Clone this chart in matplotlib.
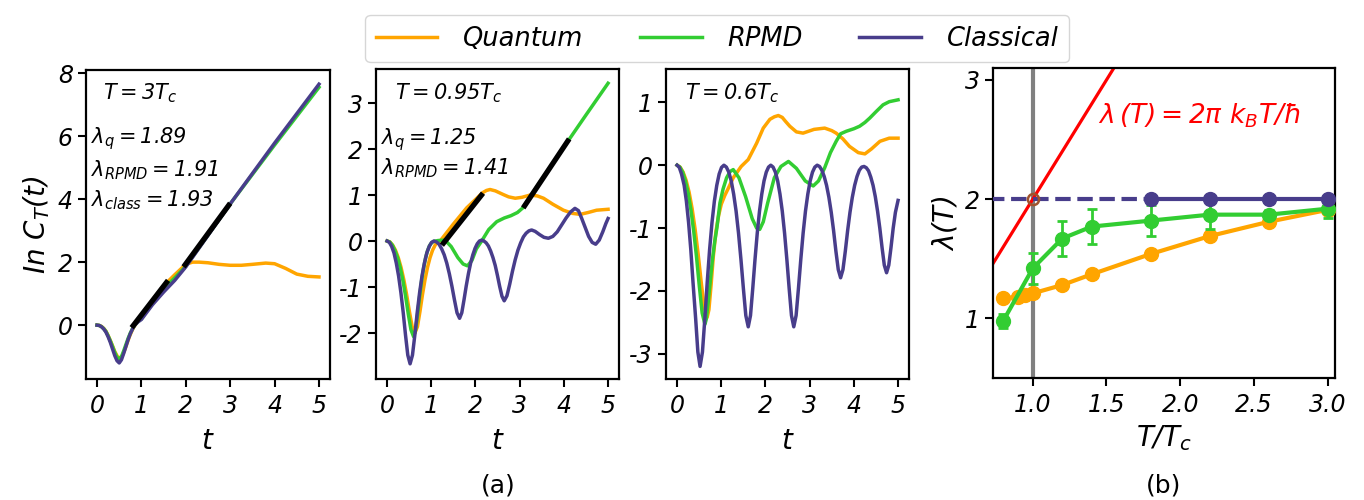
import numpy as np
import matplotlib
matplotlib.use('Agg')
import matplotlib.pyplot as plt
from matplotlib.lines import Line2D

# colori
c_q = 'orange'
c_r = 'limegreen'
c_c = 'darkslateblue'

# ---------------- pannello 1: T = 3 Tc ----------------
p1_t_q = [0, 0.05, 0.1, 0.15, 0.2, 0.25, 0.3, 0.35, 0.4, 0.46, 0.52, 0.57, 0.62, 0.67, 0.72, 0.77,
          0.82, 0.88, 1.0, 1.25, 1.5, 1.75, 2.0, 2.15, 2.3, 2.5, 2.75, 3.0, 3.25, 3.5, 3.8, 4.0,
          4.25, 4.5, 4.75, 5.0]
p1_q = [0, -0.01, -0.04, -0.1, -0.19, -0.33, -0.49, -0.66, -0.84, -1.0, -1.05, -0.97, -0.8, -0.6,
        -0.4, -0.23, -0.08, 0.05, 0.25, 0.8, 1.25, 1.6, 1.93, 2.0, 2.0, 1.98, 1.93, 1.9, 1.9, 1.93,
        1.97, 1.95, 1.8, 1.62, 1.55, 1.53]
p1_t_r = [0, 0.05, 0.1, 0.15, 0.2, 0.25, 0.3, 0.35, 0.4, 0.45, 0.5, 0.55, 0.6, 0.65, 0.7, 0.75,
          0.8, 0.86, 0.93, 1.0, 1.25, 1.5, 1.75, 2.0, 3.0, 4.0, 5.0]
p1_r = [0, -0.01, -0.05, -0.11, -0.2, -0.34, -0.5, -0.68, -0.87, -1.02, -1.08, -1.0, -0.82, -0.62,
        -0.42, -0.25, -0.11, 0.02, 0.12, 0.2, 0.75, 1.15, 1.5, 1.87, 3.85, 5.72, 7.55]
p1_t_c = [0, 0.05, 0.1, 0.15, 0.2, 0.25, 0.3, 0.35, 0.4, 0.45, 0.5, 0.55, 0.6, 0.65, 0.7, 0.75,
          0.8, 0.85, 0.92, 1.0, 1.25, 1.5, 1.75, 2.0, 3.0, 4.0, 5.0]
p1_c = [0, -0.01, -0.05, -0.12, -0.22, -0.37, -0.55, -0.76, -0.97, -1.13, -1.2, -1.1, -0.9, -0.68,
        -0.46, -0.27, -0.12, 0.0, 0.1, 0.18, 0.65, 1.05, 1.42, 1.85, 3.85, 5.78, 7.65]
p1_fit_t = [[0.78, 1.6], [1.95, 3.0]]
p1_fit_y = [[-0.08, 1.42], [1.85, 3.87]]

# ---------------- pannello 2: T = 0.95 Tc ----------------
p2_t_q = [0, 0.063, 0.126, 0.189, 0.252, 0.315, 0.378, 0.441, 0.504, 0.567, 0.63, 0.687, 0.744,
          0.801, 0.858, 0.915, 0.972, 1.029, 1.086, 1.143, 1.2, 1.5, 1.8, 2.16, 2.25, 2.33, 2.45,
          2.63, 2.75, 2.9, 3.05, 3.24, 3.4, 3.54, 3.75, 3.99, 4.2, 4.37, 4.55, 4.74, 5.0]
p2_q = [0, -0.02, -0.09, -0.2, -0.36, -0.57, -0.84, -1.16, -1.53, -1.86, -2.0, -1.86, -1.53, -1.16,
        -0.84, -0.57, -0.36, -0.2, -0.09, -0.02, 0.0, 0.37, 0.72, 1.05, 1.1, 1.12, 1.09, 1.01,
        0.96, 0.93, 0.95, 1.0, 0.98, 0.93, 0.8, 0.67, 0.6, 0.58, 0.62, 0.67, 0.69]
p2_t_r = [0, 0.06, 0.12, 0.18, 0.24, 0.3, 0.36, 0.42, 0.48, 0.54, 0.6, 0.645, 0.69, 0.735, 0.78,
          0.825, 0.87, 0.915, 0.96, 1.005, 1.05, 1.15, 1.31, 1.45, 1.6, 1.72, 1.82, 1.92, 2.02,
          2.14, 2.3, 2.48, 2.65, 2.8, 2.95, 3.07, 3.5, 4.12, 4.5, 5.0]
p2_r = [0, -0.02, -0.09, -0.21, -0.37, -0.59, -0.87, -1.21, -1.59, -1.93, -2.08, -1.93, -1.59,
        -1.21, -0.87, -0.59, -0.37, -0.21, -0.1, -0.04, -0.01, 0.01, 0.02, -0.12, -0.36, -0.5,
        -0.54, -0.42, -0.17, 0.0, 0.25, 0.42, 0.5, 0.55, 0.62, 0.72, 1.34, 2.21, 2.74, 3.43]
p2_t_c = [0, 0.052, 0.104, 0.156, 0.208, 0.26, 0.312, 0.364, 0.416, 0.468, 0.52,
          0.574, 0.628, 0.682, 0.736, 0.79, 0.844, 0.898, 0.952, 1.006, 1.06,
          1.118, 1.176, 1.234, 1.292, 1.35, 1.408, 1.466, 1.524, 1.582, 1.64,
          1.69, 1.74, 1.79, 1.84, 1.89, 1.94, 1.99, 2.04, 2.09, 2.14,
          2.191, 2.242, 2.293, 2.344, 2.395, 2.446, 2.497, 2.548, 2.599, 2.65,
          2.712, 2.774, 2.836, 2.898, 2.96, 3.022, 3.084, 3.146, 3.208, 3.27,
          3.35, 3.45, 3.55, 3.65, 3.75, 3.85, 3.95, 4.05, 4.15, 4.25, 4.33, 4.4, 4.48, 4.56,
          4.64, 4.72, 4.8, 4.88, 4.95, 5.0]
p2_c = [0, -0.03, -0.12, -0.26, -0.48, -0.76, -1.12, -1.55, -2.04, -2.48, -2.67,
        -2.48, -2.04, -1.55, -1.12, -0.76, -0.48, -0.26, -0.12, -0.03, 0,
        -0.02, -0.07, -0.17, -0.3, -0.48, -0.71, -0.98, -1.28, -1.56, -1.68,
        -1.56, -1.28, -0.98, -0.71, -0.48, -0.3, -0.16, -0.06, 0.0, 0.02,
        0.0, -0.04, -0.11, -0.22, -0.36, -0.53, -0.75, -0.99, -1.2, -1.3,
        -1.19, -0.94, -0.66, -0.41, -0.2, -0.04, 0.09, 0.17, 0.22, 0.24,
        0.21, 0.14, 0.08, 0.06, 0.1, 0.2, 0.35, 0.5, 0.63, 0.71, 0.66, 0.5, 0.3, 0.1,
        -0.03, -0.07, 0.02, 0.2, 0.38, 0.49]
p2_fit_t = [[1.24, 2.17], [3.08, 4.12]]
p2_fit_y = [[-0.09, 1.04], [0.72, 2.22]]

# ---------------- pannello 3: T = 0.6 Tc ----------------
p3_t_q = [0, 0.068, 0.136, 0.204, 0.272, 0.34, 0.408, 0.476, 0.544, 0.612, 0.68, 0.72, 0.77, 0.82,
          0.88, 0.94, 1.0, 1.08, 1.15, 1.27, 1.45, 1.61, 1.8, 1.95, 2.1, 2.2, 2.29, 2.38, 2.45,
          2.55, 2.7, 2.85, 3.1, 3.34, 3.5, 3.6, 3.75, 3.9, 4.1, 4.25, 4.4, 4.59, 4.8, 5.0]
p3_q = [0, -0.03, -0.11, -0.24, -0.43, -0.69, -1.02, -1.41, -1.85, -2.25, -2.42, -2.3, -1.9, -1.45,
        -1.05, -0.8, -0.62, -0.48, -0.38, -0.2, -0.02, 0.09, 0.35, 0.59, 0.73, 0.77, 0.79, 0.76,
        0.7, 0.62, 0.53, 0.51, 0.57, 0.59, 0.55, 0.51, 0.42, 0.3, 0.2, 0.18, 0.26, 0.38, 0.43,
        0.43]
p3_t_r = [0, 0.063, 0.126, 0.189, 0.252, 0.315, 0.378, 0.441, 0.504, 0.567, 0.63, 0.66, 0.7, 0.75,
          0.8, 0.85, 0.9, 0.97, 1.04, 1.12, 1.2, 1.27, 1.4, 1.55, 1.7, 1.8, 1.87, 1.95, 2.05, 2.2,
          2.35, 2.52, 2.7, 2.9, 3.08, 3.2, 3.34, 3.47, 3.6, 3.7, 3.83, 4.0, 4.13, 4.25, 4.36,
          4.5, 4.66, 4.8, 5.0]
p3_r = [0, -0.03, -0.11, -0.25, -0.45, -0.72, -1.06, -1.47, -1.93, -2.35, -2.53, -2.45, -2.2,
        -1.85, -1.5, -1.22, -1.0, -0.6, -0.38, -0.2, -0.1, -0.07, -0.2, -0.5, -0.85, -1.0, -1.02,
        -0.9, -0.6, -0.2, -0.02, 0.06, -0.05, -0.25, -0.33, -0.25, -0.04, 0.2, 0.38, 0.5, 0.54,
        0.58, 0.62, 0.68, 0.75, 0.85, 0.96, 1.01, 1.04]
p3_t_c = [0, 0.05, 0.1, 0.16, 0.21, 0.26, 0.31, 0.36, 0.42, 0.47, 0.52,
          0.574, 0.628, 0.682, 0.736, 0.79, 0.844, 0.898, 0.952, 1.006, 1.06,
          1.115, 1.17, 1.225, 1.28, 1.335, 1.39, 1.445, 1.5, 1.555, 1.61,
          1.661, 1.712, 1.763, 1.814, 1.865, 1.916, 1.967, 2.018, 2.069, 2.12,
          2.172, 2.224, 2.276, 2.328, 2.38, 2.432, 2.484, 2.536, 2.588, 2.64,
          2.693, 2.746, 2.799, 2.852, 2.905, 2.958, 3.011, 3.064, 3.117, 3.17,
          3.223, 3.276, 3.329, 3.382, 3.435, 3.488, 3.541, 3.594, 3.647, 3.70,
          3.753, 3.806, 3.859, 3.912, 3.965, 4.018, 4.071, 4.124, 4.177, 4.23,
          4.281, 4.332, 4.383, 4.434, 4.485, 4.536, 4.587, 4.638, 4.689, 4.74,
          4.79, 4.84, 4.89, 4.94, 5.0]
p3_c = [0, -0.035, -0.14, -0.32, -0.57, -0.91, -1.34, -1.86, -2.44, -2.97, -3.2,
        -2.97, -2.44, -1.86, -1.34, -0.91, -0.57, -0.32, -0.14, -0.035, 0,
        -0.03, -0.11, -0.25, -0.46, -0.73, -1.08, -1.5, -1.96, -2.39, -2.57,
        -2.39, -1.96, -1.5, -1.08, -0.73, -0.46, -0.25, -0.11, -0.03, 0,
        -0.03, -0.11, -0.25, -0.46, -0.73, -1.08, -1.5, -1.96, -2.39, -2.57,
        -2.39, -1.96, -1.5, -1.08, -0.73, -0.46, -0.25, -0.11, -0.03, 0,
        -0.02, -0.08, -0.18, -0.32, -0.51, -0.75, -1.04, -1.37, -1.66, -1.79,
        -1.66, -1.37, -1.04, -0.75, -0.51, -0.32, -0.18, -0.08, -0.03, -0.02,
        -0.04, -0.09, -0.19, -0.32, -0.5, -0.73, -1.0, -1.31, -1.59, -1.71,
        -1.59, -1.31, -1.0, -0.75, -0.56]

# ---------------- pannello (b): lambda(T) ----------------
Tq = [0.8, 0.9, 0.95, 1.0, 1.2, 1.4, 1.8, 2.2, 2.6, 3.0]
lam_q = [1.17, 1.18, 1.2, 1.21, 1.28, 1.37, 1.54, 1.69, 1.81, 1.91]
Tr = [0.8, 1.0, 1.2, 1.4, 1.8, 2.2, 2.6, 3.0]
lam_r = [0.98, 1.42, 1.67, 1.77, 1.82, 1.87, 1.87, 1.92]
err_r = [0.06, 0.13, 0.15, 0.15, 0.13, 0.12, 0.04, 0.08]
Tc_pts = [1.8, 2.2, 2.6, 3.0]
lam_c = [2.0, 2.0, 2.0, 2.0]
Tc_dash = [0.7, 1.8]
lam_c_dash = [2.0, 2.0]
T_bound = [0.7, 1.6]
lam_bound = [1.4, 3.2]

plt.rcParams['font.family'] = 'DejaVu Sans'
plt.rcParams['font.style'] = 'italic'
plt.rcParams['mathtext.fontset'] = 'custom'
plt.rcParams['mathtext.rm'] = 'DejaVu Sans:italic'
plt.rcParams['mathtext.it'] = 'DejaVu Sans:italic'
plt.rcParams['mathtext.sf'] = 'DejaVu Sans:italic'
plt.rcParams['axes.unicode_minus'] = False
plt.rcParams['axes.linewidth'] = 1.6
plt.rcParams['xtick.major.width'] = 1.5
plt.rcParams['ytick.major.width'] = 1.5
plt.rcParams['xtick.major.size'] = 6
plt.rcParams['ytick.major.size'] = 6
plt.rcParams['xtick.major.pad'] = 5
plt.rcParams['xtick.labelsize'] = 17
plt.rcParams['ytick.labelsize'] = 17

fig = plt.figure(figsize=(13.64, 5.0), dpi=100)
ax1 = fig.add_axes([0.063, 0.242, 0.179, 0.618])
ax2 = fig.add_axes([0.2757, 0.242, 0.1782, 0.62])
ax3 = fig.add_axes([0.4883, 0.242, 0.1782, 0.62])
ax4 = fig.add_axes([0.728, 0.244, 0.2507, 0.62])

lw = 2.5
panels = [
    (ax1, p1_t_q, p1_q, p1_t_r, p1_r, p1_t_c, p1_c, (-1.71, 8.1), [0, 2, 4, 6, 8]),
    (ax2, p2_t_q, p2_q, p2_t_r, p2_r, p2_t_c, p2_c, (-3.0, 3.74), [-2, -1, 0, 1, 2, 3]),
    (ax3, p3_t_q, p3_q, p3_t_r, p3_r, p3_t_c, p3_c, (-3.4, 1.53), [-3, -2, -1, 0, 1]),
]
for ax, tq, q, tr, r, tc, c, ylim, yt in panels:
    ax.plot(tq, q, color=c_q, lw=lw)
    ax.plot(tr, r, color=c_r, lw=lw)
    ax.plot(tc, c, color=c_c, lw=lw)
    ax.set_xlim(-0.25, 5.25)
    ax.set_ylim(*ylim)
    ax.set_xticks([0, 1, 2, 3, 4, 5])
    ax.set_yticks(yt)
    ax.set_xlabel('$t$', fontsize=20, labelpad=6)

for ft, fy in zip(p1_fit_t, p1_fit_y):
    ax1.plot(ft, fy, color='black', lw=3.8, solid_capstyle='butt')
for ft, fy in zip(p2_fit_t, p2_fit_y):
    ax2.plot(ft, fy, color='black', lw=3.8, solid_capstyle='butt')

ax1.set_ylabel('$In\\ C_T(t)$', fontsize=20)

fs = 15
ax1.text(0.07, 0.925, '$T = 3T_c$', transform=ax1.transAxes, fontsize=fs, va='center')
ax1.text(0.02, 0.777, '$\\lambda_q = 1.89$', transform=ax1.transAxes, fontsize=fs, va='center')
ax1.text(0.02, 0.676, '$\\lambda_{RPMD} = 1.91$', transform=ax1.transAxes, fontsize=fs, va='center')
ax1.text(0.02, 0.579, '$\\lambda_{class} = 1.93$', transform=ax1.transAxes, fontsize=fs, va='center')
ax2.text(0.078, 0.923, '$T = 0.95T_c$', transform=ax2.transAxes, fontsize=fs, va='center')
ax2.text(0.02, 0.771, '$\\lambda_q = 1.25$', transform=ax2.transAxes, fontsize=fs, va='center')
ax2.text(0.02, 0.68, '$\\lambda_{RPMD} = 1.41$', transform=ax2.transAxes, fontsize=fs, va='center')
ax3.text(0.078, 0.923, '$T = 0.6T_c$', transform=ax3.transAxes, fontsize=fs, va='center')

# pannello (b)
ax4.axvline(1.0, color='gray', lw=3, zorder=1)
ax4.plot(T_bound, lam_bound, color='red', lw=2.3, zorder=2)
ax4.plot(Tq, lam_q, color=c_q, lw=3, marker='o', ms=10, zorder=3)
ax4.errorbar(Tr, lam_r, yerr=err_r, color=c_r, lw=3, marker='o', ms=10, capsize=3.5,
             capthick=2, elinewidth=2, zorder=4)
ax4.plot(Tc_dash, lam_c_dash, color=c_c, lw=3, ls='--', zorder=5)
ax4.plot(Tc_pts, lam_c, color=c_c, lw=3, marker='o', ms=10, zorder=5)
ax4.plot([1.0], [2.0], marker='o', ms=8, mfc='none', mec='sienna', mew=1.8, zorder=6)
ax4.set_xlim(0.73, 3.05)
ax4.set_ylim(0.5, 3.1)
ax4.set_xticks([1.0, 1.5, 2.0, 2.5, 3.0])
ax4.set_yticks([1, 2, 3])
ax4.tick_params(labelsize=17)
ax4.set_xlabel('$T/T_c$', fontsize=20)
ax4.set_ylabel('$\\lambda(T)$', fontsize=20)
ax4.text(1.44, 2.7, '$\\lambda\\,(T) = 2\\pi\\ k_BT/\\hbar$', color='red', fontsize=19, va='center')

fig.text(0.365, 0.03, '(a)', fontsize=18, style='normal', ha='center', va='center')
fig.text(0.853, 0.03, '(b)', fontsize=18, style='normal', ha='center', va='center')

handles = [Line2D([], [], color=c_q, lw=2.5), Line2D([], [], color=c_r, lw=2.5),
           Line2D([], [], color=c_c, lw=2.5)]
fig.legend(handles, ['Quantum', 'RPMD', 'Classical'], loc='upper center',
           bbox_to_anchor=(0.5257, 0.995), ncol=3, fontsize=18.5, handlelength=2.4,
           columnspacing=2.2, handletextpad=1.0)

fig.savefig('out.png', dpi=100)
